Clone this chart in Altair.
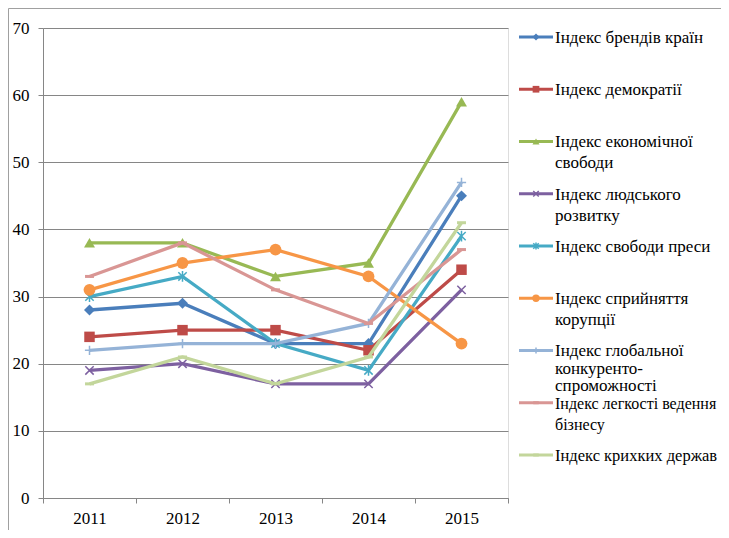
import altair as alt
import pandas as pd

years = ["2011", "2012", "2013", "2014", "2015"]
names = [
    "Індекс брендів країн",
    "Індекс демократії",
    "Індекс економічної\nсвободи",
    "Індекс людського\nрозвитку",
    "Індекс свободи преси",
    "Індекс сприйняття\nкорупції",
    "Індекс глобальної\nконкуренто-\nспроможності",
    "Індекс легкості ведення\nбізнесу",
    "Індекс крихких держав",
]
brand = [28, 29, 23, 23, 45]
democracy = [24, 25, 25, 22, 34]
economic = [38, 38, 33, 35, 59]
human = [19, 20, 17, 17, 31]
press = [30, 33, 23, 19, 39]
corruption = [31, 35, 37, 33, 23]
competitiveness = [22, 23, 23, 26, 47]
business = [33, 38, 31, 26, 37]
fragile = [17, 21, 17, 21, 41]
series_values = [brand, democracy, economic, human, press, corruption,
                 competitiveness, business, fragile]

colors = ["#4A7EBB", "#BE4B48", "#98B954", "#7D60A0", "#46AAC5",
          "#F79646", "#95B3D7", "#D99694", "#C3D69B"]
X_PATH = "M-1,-1L1,1M-1,1L1,-1"
STAR_PATH = "M-1,-1L1,1M-1,1L1,-1M0,-1.3V1.3"
PLUS_PATH = "M-1.1,0H1.1M0,-1.1V1.1"
DASH_PATH = "M-1,0H1"
# (shape, filled, size, legend size, stroke width)
markers = [
    ("diamond", True, 120, 50, 0),
    ("square", True, 110, 45, 0),
    ("triangle-up", True, 120, 50, 0),
    (X_PATH, False, 70, 30, 1.5),
    (STAR_PATH, False, 70, 30, 1.5),
    ("circle", True, 140, 55, 0),
    (PLUS_PATH, False, 70, 30, 1.5),
    (DASH_PATH, False, 80, 30, 3),
    (DASH_PATH, False, 80, 30, 3),
]
# legend text (font size, line height) per entry
legend_text_style = [(17, 21)] * 6 + [(17, 17.5), (16, 21), (16.5, 21)]

rows = []
for name, vals in zip(names, series_values):
    for yr, v in zip(years, vals):
        rows.append({"series": name, "year": yr, "value": v})
df = pd.DataFrame(rows)

FONT = "Liberation Serif"
GRAY = "#868686"
FRAME = "#A0A0A0"
W, H = 465, 470
PAD = {"left": 35, "top": 20, "right": 213, "bottom": 32}
LX = W  # legend panel starts at the plot's right edge
LW = PAD["right"]

x_enc = alt.X("year:O", sort=years,
              scale=alt.Scale(type="band", paddingInner=0, paddingOuter=0),
              axis=alt.Axis(title=None, labelAngle=0, tickBand="extent", grid=False,
                            domainColor=GRAY, tickColor=GRAY, tickSize=5,
                            labelFont=FONT, labelFontSize=17, labelColor="black",
                            labelPadding=7))
y_enc = alt.Y("value:Q", scale=alt.Scale(domain=[0, 70], nice=False),
              axis=alt.Axis(title=None, values=list(range(0, 71, 10)), grid=True,
                            gridColor=GRAY, domainColor=GRAY, tickColor=GRAY,
                            tickSize=5, labelFont=FONT, labelFontSize=17,
                            labelColor="black", labelPadding=9))

series_layers = []
for name, col, (shape, filled, size, lsize, sw) in zip(names, colors, markers):
    base = alt.Chart(df).transform_filter(alt.datum.series == name)
    series_layers.append(base.mark_line(color=col, strokeWidth=3.3).encode(x=x_enc, y=y_enc))
    if filled:
        pm = base.mark_point(shape=shape, filled=True, color=col, size=size, opacity=1)
    else:
        pm = base.mark_point(shape=shape, filled=False, color=col, size=size,
                             strokeWidth=sw, opacity=1)
    series_layers.append(pm.encode(x=x_enc, y=y_enc))
main = alt.layer(*series_layers)

# frame of the chart area
one = pd.DataFrame({"a": [0]})
frame = alt.layer(
    alt.Chart(one).mark_rule(color=FRAME, strokeWidth=1).encode(
        x=alt.value(-34.5), y=alt.value(-19.5), y2=alt.value(H + PAD["bottom"])),
    alt.Chart(one).mark_rule(color=FRAME, strokeWidth=1).encode(
        x=alt.value(-34.5), x2=alt.value(LX + LW), y=alt.value(-19.5)),
)

# legend panel
leg = pd.DataFrame({"series": names, "slot": list(range(len(names)))})
slot_y = alt.Y("slot:Q", scale=alt.Scale(domain=[-0.172, 8.823], reverse=True, nice=False,
                                          zero=False), axis=None)
leg_layers = []
for name, col, (shape, filled, size, lsize, sw), (fs, lh) in zip(
        names, colors, markers, legend_text_style):
    b = alt.Chart(leg).transform_filter(alt.datum.series == name)
    leg_layers.append(b.mark_rule(color=col, strokeWidth=3).encode(
        x=alt.value(LX + 11), x2=alt.value(LX + 45), y=slot_y))
    if filled:
        pm = b.mark_point(shape=shape, filled=True, color=col, size=lsize, opacity=1)
    else:
        pm = b.mark_point(shape=shape, filled=False, color=col, size=lsize,
                          strokeWidth=sw, opacity=1)
    leg_layers.append(pm.encode(x=alt.value(LX + 28), y=slot_y))
    leg_layers.append(b.mark_text(
        align="left", baseline="alphabetic", dy=6, lineBreak="\n", lineHeight=lh,
        font=FONT, fontSize=fs, color="black").encode(
        x=alt.value(LX + 47), y=slot_y, text="series:N"))
legend = alt.layer(*leg_layers)

chart = alt.layer(frame, main, legend).resolve_scale(y="independent").properties(
    width=W, height=H, padding=PAD,
    autosize=alt.AutoSizeParams(type="none")).configure_view(
    stroke="transparent", strokeWidth=0).configure(background="white")

chart.save("out.html", embed_options={"renderer": "svg", "actions": False})
